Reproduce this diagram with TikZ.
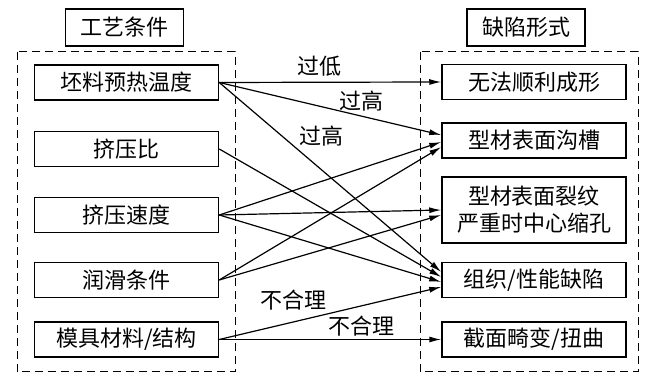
\documentclass[tikz,border=0pt]{standalone}
\usepackage{fontspec}
\setmainfont{Noto Sans CJK SC}
\usetikzlibrary{arrows.meta,positioning}

\begin{document}
\begin{tikzpicture}[
  x=0.5pt, y=-0.5pt,
  font=\fontsize{11}{13.5}\selectfont,
  item/.style={draw, line width=0.75pt, align=center, minimum width=92pt, minimum height=17.5pt, inner sep=2pt},
  headbox/.style={draw, line width=0.75pt, minimum width=59pt, minimum height=18.5pt, inner sep=2pt},
  groupbox/.style={draw, dash pattern=on 4pt off 2.5pt, line width=0.5pt},
  flow/.style={->, line width=0.6pt},
  lbl/.style={inner sep=1pt},
  >={Latex[length=6pt,width=3pt]}
]
\useasboundingbox (0,0) rectangle (660,383);

% headers
\node[headbox] (hl) at (124.5,27.5) {工艺条件};
\node[headbox] (hr) at (526,27.5) {缺陷形式};

% dashed groups
\draw[groupbox] (17,52) rectangle (235,372);
\draw[groupbox] (420,52) rectangle (638,372);

% process conditions
\node[item] (l1) at (126.5,82.5) {坯料预热温度};
\node[item] (l2) at (126.5,149) {挤压比};
\node[item] (l3) at (126.5,215) {挤压速度};
\node[item] (l4) at (126.5,280) {润滑条件};
\node[item] (l5) at (126.5,339.5) {模具材料/结构};

% defect forms
\node[item] (r1) at (534,82) {无法顺利成形};
\node[item] (r2) at (534,140.5) {型材表面沟槽};
\node[item, minimum height=33pt] (r3) at (534,210) {型材表面裂纹\\严重时中心缩孔};
\node[item] (r4) at (534,280) {组织/性能缺陷};
\node[item] (r5) at (534,339.5) {截面畸变/扭曲};

\draw[flow] (l1.east) -- (r1.west) node[lbl, pos=0.45, above=1.5pt]{过低};
\draw[flow] (l1.east) -- ([yshift=2.75pt]r2.west) node[lbl, pos=0.64, above=1pt]{过高};
\draw[flow] (l1.east) -- ([yshift=4pt]r4.west) node[lbl, pos=0.35, anchor=south west]{过高};
\draw[flow] (l2.east) -- ([yshift=1.5pt]r4.west);
\draw[flow] (l3.east) -- ([yshift=-0.75pt]r2.west);
\draw[flow] (l3.east) -- (r3.west);
\draw[flow] (l3.east) -- ([yshift=-1pt]r4.west);
\draw[flow] (l4.east) -- ([yshift=-3.25pt]r2.west);
\draw[flow] (l4.east) -- ([yshift=-2.5pt]r3.west);

% die material / structure
\draw[flow] (l5.east) -- ([yshift=-3.5pt]r4.west) node[lbl, pos=0.335, above=4.5pt]{不合理};
\draw[flow] (l5.east) -- (r5.west) node[lbl, pos=0.64, above=0.5pt]{不合理};
\end{tikzpicture}
\end{document}
